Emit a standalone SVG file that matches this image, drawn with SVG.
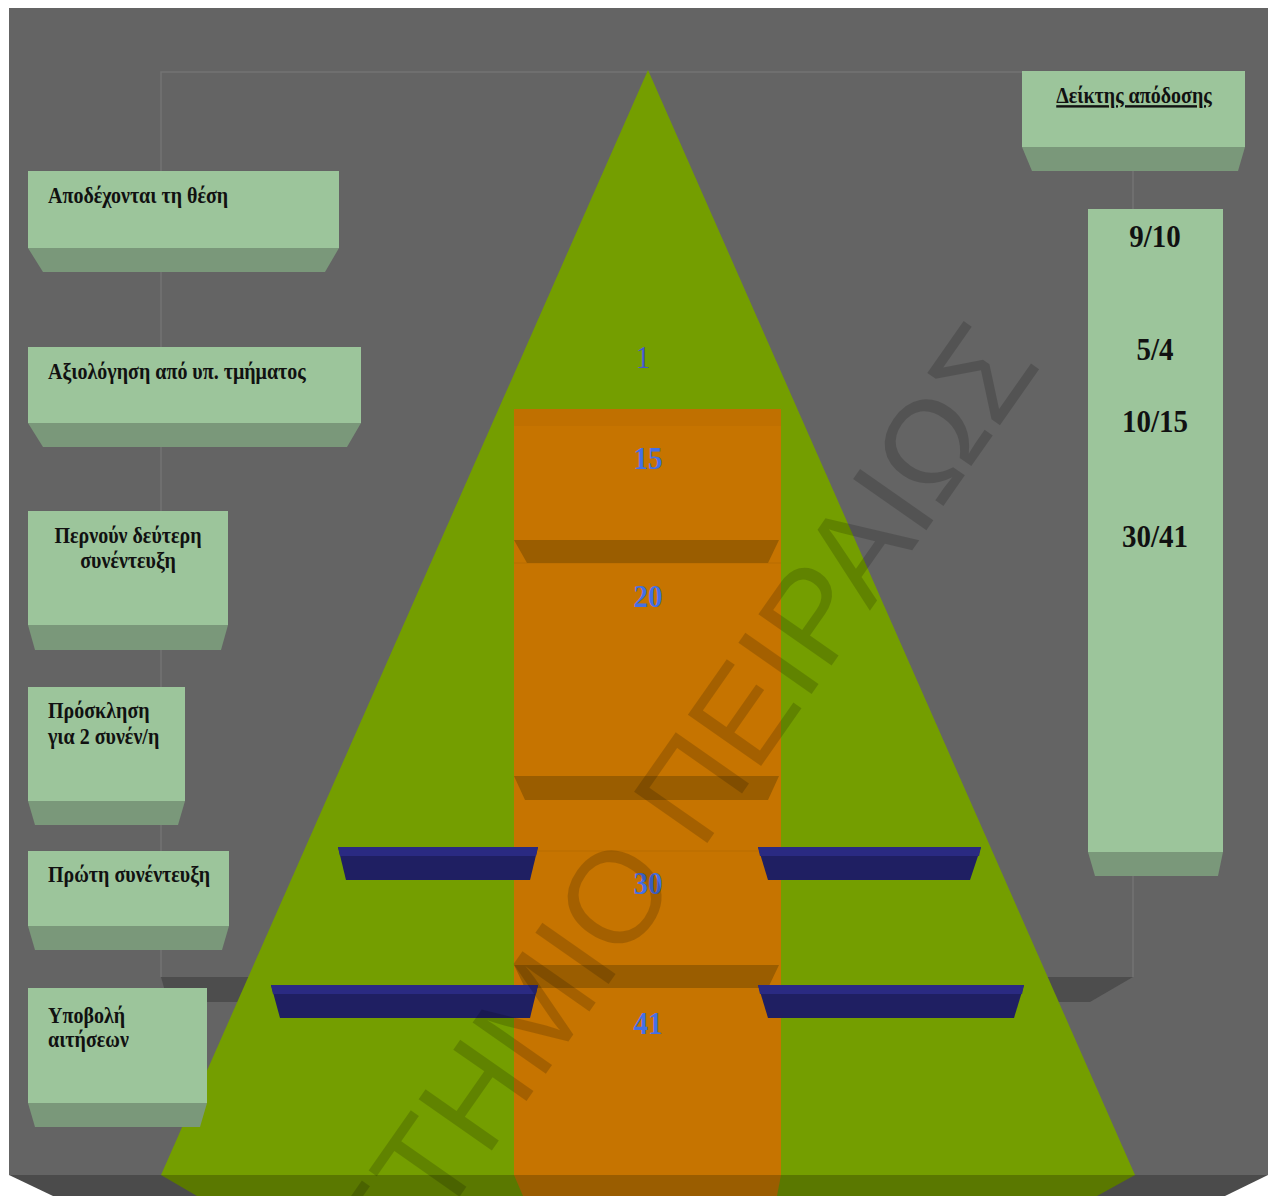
<svg xmlns="http://www.w3.org/2000/svg" width="1274" height="1196" viewBox="0 0 1274 1196">
<style>
.face{fill:#9cc59b}
.low{fill:#7a987a}
.bt{font-family:"Liberation Serif","DejaVu Serif",serif;font-weight:bold;font-size:20px;fill:#111}
.val{font-family:"Liberation Serif","DejaVu Serif",serif;font-weight:bold;font-size:29px;fill:#111;text-anchor:middle}
.num{font-family:"Liberation Serif","DejaVu Serif",serif;font-weight:bold;font-size:29px;fill:#4470e6;text-anchor:middle}
.bar{fill:#1f1f62}
.bartop{fill:#2a2a82}
.shelf{fill:#9a5d00}
.axis{stroke:#737373;stroke-width:1.5;fill:none}
</style>
<rect x="0" y="0" width="1274" height="1196" fill="#ffffff"/>
<g id="chart-background">
<rect x="9" y="8" width="1259" height="1167" fill="#646464"/>
<polygon points="9,1175 1268,1175 1225,1196 53,1196" fill="#4b4b4b"/>
<polyline class="axis" points="161,977 161,72 1133,72 1133,977"/>
<polygon points="161,977 1133,977 1090,1002 168,1002" fill="#4d4d4d"/>
</g>
<g id="pyramid">
<polygon points="648,70 1135,1175 161,1175" fill="#749e00"/>
<polygon points="161,1175 1135,1175 1097,1196 197,1196" fill="#5a7800"/>
</g>
<g id="column">
<rect x="514" y="409" width="267" height="766" fill="#c67400"/>
<rect x="514" y="409" width="267" height="17" fill="#c07000"/>
<line x1="514" y1="563" x2="781" y2="563" stroke="#b86c00" stroke-width="1"/>
<line x1="514" y1="851" x2="781" y2="851" stroke="#b86c00" stroke-width="1"/>
<polygon points="514,1175 781,1175 777,1196 523,1196" fill="#9a5d00"/>
<polygon class="shelf" points="514,540 779,540 768,563 527,563"/>
<polygon class="shelf" points="514,776 779,776 768,800 525,800"/>
<polygon class="shelf" points="514,965 779,965 768,988 525,988"/>
</g>
<g id="bars">
<polygon class="bar" points="338,847 538,847 530,880 346,880"/>
<polygon class="bartop" points="338,847 538,847 536,856 340,856"/>
<polygon class="bar" points="758,847 981,847 970,880 768,880"/>
<polygon class="bartop" points="758,847 981,847 979,856 760,856"/>
<polygon class="bar" points="271,985 538,985 530,1018 280,1018"/>
<polygon class="bartop" points="271,985 538,985 536,994 273,994"/>
<polygon class="bar" points="758,985 1024,985 1014,1018 768,1018"/>
<polygon class="bartop" points="758,985 1024,985 1022,994 760,994"/>
</g>
<g id="values">
<text class="num" transform="translate(643,368) scale(1,1.1)" style="font-weight:normal;fill:#4458cc">1</text>
<text class="num" transform="translate(648,469) scale(1,1.1)">15</text>
<text class="num" transform="translate(648,607) scale(1,1.1)">20</text>
<text class="num" transform="translate(648,894) scale(1,1.1)">30</text>
<text class="num" transform="translate(648,1034) scale(1,1.1)">41</text>
</g>
<g id="box-accept">
<rect class="face" x="28" y="171" width="311" height="77"/>
<polygon class="low" points="28,248 339,248 325,272 43,272"/>
<text class="bt" transform="translate(48,203) scale(1,1.2)">Αποδέχονται τη θέση</text>
</g>
<g id="box-evaluation">
<rect class="face" x="28" y="347" width="333" height="76"/>
<polygon class="low" points="28,423 361,423 347,447 43,447"/>
<text class="bt" transform="translate(48,379) scale(1,1.2)">Αξιολόγηση από υπ. τμήματος</text>
</g>
<g id="box-second-interview">
<rect class="face" x="28" y="511" width="200" height="114"/>
<polygon class="low" points="28,625 228,625 221,650 35,650"/>
<text class="bt" text-anchor="middle" transform="translate(128,543) scale(1,1.2)">Περνούν δεύτερη</text>
<text class="bt" text-anchor="middle" transform="translate(128,568) scale(1,1.2)">συνέντευξη</text>
</g>
<g id="box-invitation">
<rect class="face" x="28" y="687" width="157" height="114"/>
<polygon class="low" points="28,801 185,801 178,825 35,825"/>
<text class="bt" transform="translate(48,718) scale(1,1.2)">Πρόσκληση</text>
<text class="bt" transform="translate(48,744) scale(1,1.2)">για 2 συνέν/η</text>
</g>
<g id="box-first-interview">
<rect class="face" x="28" y="851" width="201" height="75"/>
<polygon class="low" points="28,926 229,926 222,950 35,950"/>
<text class="bt" transform="translate(48,882) scale(1,1.2)">Πρώτη συνέντευξη</text>
</g>
<g id="box-submission">
<rect class="face" x="28" y="988" width="179" height="115"/>
<polygon class="low" points="28,1103 207,1103 200,1127 35,1127"/>
<text class="bt" transform="translate(48,1023) scale(1,1.2)">Υποβολή</text>
<text class="bt" transform="translate(48,1047) scale(1,1.2)">αιτήσεων</text>
</g>
<g id="box-header">
<rect class="face" x="1022" y="71" width="223" height="76"/>
<polygon class="low" points="1022,147 1245,147 1238,171 1032,171"/>
<text class="bt" text-anchor="middle" text-decoration="underline" transform="translate(1134,103) scale(1,1.2)">Δείκτης απόδοσης</text>
</g>
<g id="box-indicators">
<rect class="face" x="1088" y="209" width="135" height="643"/>
<polygon class="low" points="1088,852 1223,852 1218,876 1095,876"/>
<text class="val" transform="translate(1155,247) scale(1,1.1)">9/10</text>
<text class="val" transform="translate(1155,360) scale(1,1.1)">5/4</text>
<text class="val" transform="translate(1155,432) scale(1,1.1)">10/15</text>
<text class="val" transform="translate(1155,547) scale(1,1.1)">30/41</text>
</g>
<g id="watermark">
<text transform="translate(1042,365) rotate(-55)" text-anchor="end" font-family="Liberation Sans, Arial, sans-serif" font-size="130" fill="#000" fill-opacity="0.17">ΠΑΝΕΠΙΣΤΗΜΙΟ ΠΕΙΡΑΙΩΣ</text>
</g>
</svg>
